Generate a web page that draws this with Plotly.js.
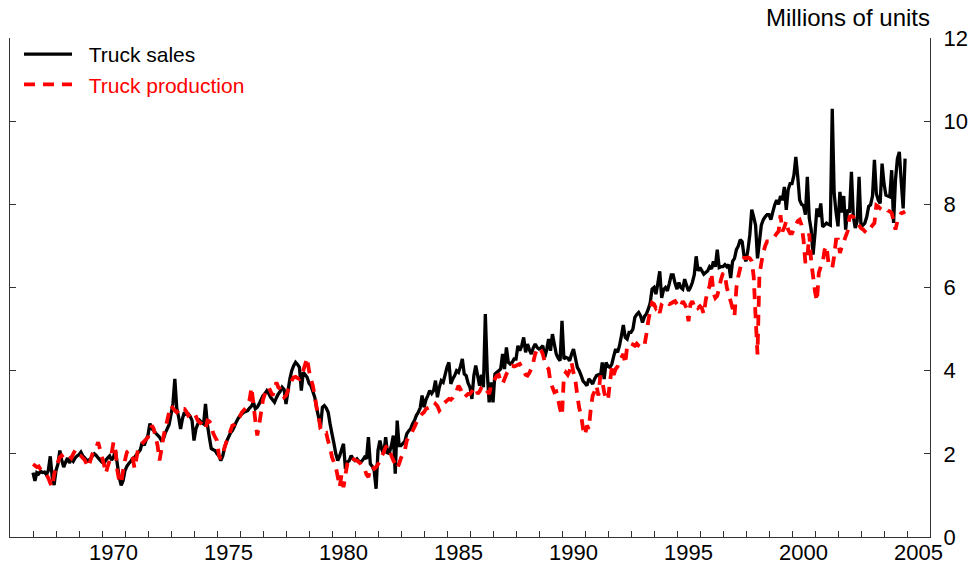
<!DOCTYPE html>
<html>
<head>
<meta charset="utf-8">
<script src="https://cdn.plot.ly/plotly-3.0.1.min.js"></script>
<style>
  html, body { margin: 0; padding: 0; background: #fff; }
  #chart { width: 977px; height: 571px; }
</style>
</head>
<body>
<div id="chart"></div>
<script>
// Monthly data, January 1967 through December 2004 (12 values per row)
const startYear = 1967;

const truckSales = [
  1.55, 1.35, 1.55, 1.52, 1.58, 1.55, 1.56, 1.50, 1.60, 1.94, 1.45, 1.25, // 1967
  1.60, 1.75, 2.08, 1.85, 1.68, 1.80, 1.90, 1.78, 1.88, 1.82, 1.90, 1.95, // 1968
  1.98, 2.04, 1.95, 1.90, 1.85, 1.84, 1.88, 1.95, 2.00, 1.96, 1.90, 1.85, // 1969
  1.80, 1.77, 1.85, 1.90, 1.95, 1.85, 1.92, 2.08, 1.75, 1.44, 1.24, 1.35, // 1970
  1.60, 1.70, 1.77, 1.82, 1.89, 1.92, 1.98, 2.04, 2.10, 2.28, 2.20, 2.33, // 1971
  2.45, 2.73, 2.60, 2.56, 2.50, 2.45, 2.40, 2.32, 2.35, 2.50, 2.60, 2.70, // 1972
  2.95, 3.20, 3.80, 3.10, 2.88, 2.60, 2.85, 3.00, 2.95, 2.96, 2.90, 2.80, // 1973
  2.32, 2.60, 2.72, 2.80, 2.75, 2.72, 3.20, 2.70, 2.40, 2.13, 2.10, 2.08, // 1974
  2.00, 1.95, 1.84, 1.95, 2.16, 2.30, 2.40, 2.50, 2.56, 2.65, 2.76, 2.85, // 1975
  2.92, 2.96, 3.00, 3.02, 3.04, 3.10, 3.15, 3.24, 3.08, 3.12, 3.20, 3.30, // 1976
  3.40, 3.45, 3.52, 3.45, 3.36, 3.30, 3.24, 3.35, 3.44, 3.50, 3.60, 3.55, // 1977
  3.20, 3.50, 3.80, 4.00, 4.12, 4.20, 4.15, 4.08, 3.52, 3.96, 3.90, 3.84, // 1978
  3.70, 3.64, 3.50, 3.36, 3.10, 2.88, 2.64, 3.12, 3.16, 3.10, 3.00, 2.72, // 1979
  2.48, 2.25, 2.00, 1.84, 1.95, 2.10, 2.24, 1.64, 1.80, 1.84, 1.96, 1.88, // 1980
  1.84, 1.88, 1.82, 1.80, 1.85, 1.92, 1.88, 2.40, 1.76, 1.70, 1.60, 1.16, // 1981
  2.08, 2.32, 2.10, 2.00, 2.40, 2.00, 2.04, 2.20, 2.44, 1.52, 2.80, 2.20, // 1982
  2.20, 2.25, 2.30, 2.48, 2.55, 2.60, 2.72, 2.80, 2.92, 3.00, 3.10, 3.40, // 1983
  3.12, 3.30, 3.40, 3.52, 3.45, 3.52, 3.76, 3.36, 3.60, 3.76, 3.72, 3.90, // 1984
  4.08, 4.20, 3.68, 3.80, 3.88, 4.00, 3.96, 4.10, 4.28, 3.92, 3.88, 3.70, // 1985
  3.60, 3.32, 3.88, 4.12, 3.88, 3.64, 3.90, 3.60, 5.36, 3.96, 3.24, 3.72, // 1986
  3.24, 3.92, 3.96, 4.00, 4.04, 4.40, 4.04, 4.56, 4.20, 4.16, 4.20, 4.28, // 1987
  4.28, 4.60, 4.48, 4.60, 4.80, 4.44, 4.64, 4.50, 4.40, 4.55, 4.64, 4.56, // 1988
  4.52, 4.55, 4.60, 4.32, 4.50, 4.76, 4.48, 4.88, 4.64, 4.40, 4.30, 4.24, // 1989
  5.20, 4.28, 4.32, 4.30, 4.24, 4.40, 4.52, 4.30, 4.08, 4.00, 3.88, 3.75, // 1990
  3.70, 3.64, 3.80, 3.75, 3.68, 3.80, 3.88, 3.90, 3.84, 4.20, 3.80, 4.20, // 1991
  4.10, 4.08, 4.16, 4.35, 4.52, 4.44, 4.60, 4.84, 5.10, 4.80, 4.76, 4.92, // 1992
  4.92, 5.00, 5.28, 5.35, 5.40, 5.32, 5.16, 5.30, 5.36, 5.48, 5.63, 5.96, // 1993
  6.00, 5.84, 6.10, 6.39, 5.75, 5.95, 6.00, 5.92, 6.10, 6.30, 6.30, 6.10, // 1994
  5.96, 6.12, 6.00, 5.96, 6.20, 6.05, 5.92, 6.00, 6.12, 6.30, 6.75, 6.40, // 1995
  6.48, 6.40, 6.32, 6.36, 6.40, 6.50, 6.45, 6.63, 6.50, 6.91, 6.48, 6.50, // 1996
  6.50, 6.55, 6.50, 6.55, 6.23, 6.63, 6.70, 6.91, 7.00, 7.15, 7.10, 6.75, // 1997
  6.63, 6.90, 7.27, 7.87, 7.70, 7.50, 6.70, 7.10, 7.50, 7.63, 7.70, 7.75, // 1998
  7.75, 7.63, 7.82, 7.99, 8.10, 8.00, 8.20, 8.10, 8.42, 7.87, 8.35, 8.50, // 1999
  8.50, 8.70, 9.14, 8.66, 8.10, 8.00, 7.97, 7.75, 8.66, 7.67, 7.39, 6.79, // 2000
  7.30, 7.90, 7.70, 8.02, 7.46, 7.50, 7.55, 7.52, 7.50, 10.30, 8.26, 7.80, // 2001
  7.47, 8.30, 7.80, 8.20, 7.39, 7.87, 7.80, 8.78, 7.70, 7.43, 7.60, 8.66, // 2002
  7.47, 7.50, 7.55, 7.70, 7.95, 7.99, 8.20, 9.07, 8.26, 8.10, 8.02, 8.98, // 2003
  8.50, 8.22, 8.20, 8.18, 8.82, 7.55, 8.60, 9.10, 9.26, 8.54, 7.90, 9.10  // 2004
];

const truckProduction = [
  1.75, 1.72, 1.68, 1.70, 1.62, 1.58, 1.55, 1.50, 1.42, 1.30, 1.20, 1.50, // 1967
  1.68, 1.80, 1.92, 1.96, 1.90, 1.88, 1.92, 1.95, 1.90, 2.00, 2.08, 1.96, // 1968
  1.96, 1.95, 1.90, 1.85, 1.75, 1.68, 1.85, 2.00, 2.10, 2.16, 2.28, 2.10, // 1969
  1.92, 1.75, 1.53, 1.70, 1.84, 2.00, 2.28, 2.10, 1.60, 1.35, 1.29, 1.60, // 1970
  1.85, 2.04, 2.08, 2.00, 1.90, 1.65, 1.90, 2.16, 2.20, 2.25, 2.30, 2.35, // 1971
  2.40, 2.55, 2.68, 2.60, 2.40, 2.20, 1.84, 2.10, 2.40, 2.60, 2.80, 3.00, // 1972
  3.16, 3.10, 3.04, 3.00, 3.05, 3.00, 3.08, 3.08, 3.02, 2.92, 2.95, 3.00, // 1973
  3.00, 2.90, 2.80, 2.75, 2.72, 2.65, 2.60, 2.80, 2.78, 2.72, 2.50, 2.40, // 1974
  2.32, 1.96, 1.88, 2.00, 2.16, 2.30, 2.40, 2.55, 2.68, 2.70, 2.76, 2.85, // 1975
  2.90, 3.00, 3.05, 3.10, 3.20, 3.30, 3.60, 3.20, 2.80, 2.44, 2.70, 3.00, // 1976
  3.30, 3.44, 3.55, 3.60, 3.50, 3.40, 3.55, 3.72, 3.60, 3.56, 3.45, 3.36, // 1977
  3.40, 3.52, 3.65, 3.76, 3.84, 3.85, 3.82, 3.80, 3.90, 4.00, 4.15, 4.31, // 1978
  4.00, 3.80, 3.64, 3.40, 3.10, 2.92, 2.60, 2.55, 2.48, 2.50, 2.30, 2.16, // 1979
  1.92, 1.80, 1.68, 1.45, 1.20, 1.50, 1.20, 1.50, 1.76, 1.85, 1.92, 1.88, // 1980
  1.85, 1.84, 1.80, 1.76, 1.70, 1.64, 1.50, 1.44, 1.65, 1.70, 1.64, 1.68, // 1981
  1.75, 1.84, 1.95, 2.04, 2.16, 2.20, 2.08, 1.95, 1.84, 1.76, 1.65, 1.76, // 1982
  1.90, 2.00, 2.08, 2.32, 2.40, 2.44, 2.55, 2.64, 2.75, 2.84, 2.90, 2.96, // 1983
  3.00, 3.08, 3.10, 3.12, 3.15, 3.12, 3.20, 3.15, 3.04, 3.10, 3.20, 3.24, // 1984
  3.28, 3.32, 3.30, 3.35, 3.45, 3.52, 3.64, 3.56, 3.45, 3.36, 3.40, 3.44, // 1985
  3.44, 3.50, 3.56, 3.60, 3.44, 3.50, 3.60, 3.64, 3.56, 3.50, 3.44, 3.64, // 1986
  3.70, 3.80, 3.88, 3.90, 3.75, 3.68, 3.80, 3.92, 4.00, 4.08, 4.12, 4.10, // 1987
  4.12, 4.14, 4.16, 4.08, 4.00, 3.90, 3.88, 3.95, 4.05, 4.20, 4.40, 4.52, // 1988
  4.56, 4.50, 4.40, 4.20, 4.10, 4.04, 3.72, 3.60, 3.48, 3.50, 3.30, 3.08, // 1989
  2.92, 3.88, 3.96, 3.90, 4.00, 4.20, 3.95, 3.76, 3.40, 3.10, 2.92, 2.60, // 1990
  2.45, 2.68, 2.60, 3.08, 3.40, 3.50, 3.64, 3.40, 3.88, 3.76, 3.48, 3.30, // 1991
  3.30, 3.72, 4.08, 3.90, 4.04, 4.10, 4.24, 4.32, 4.40, 4.16, 4.60, 4.65, // 1992
  4.65, 4.63, 4.60, 4.65, 4.60, 4.57, 4.55, 4.60, 4.87, 5.19, 5.43, 5.63, // 1993
  5.60, 5.50, 5.55, 5.39, 5.60, 5.67, 5.65, 5.63, 5.60, 5.62, 5.65, 5.67, // 1994
  5.60, 5.63, 5.55, 5.67, 5.60, 5.50, 5.19, 5.60, 5.67, 5.55, 5.60, 5.51, // 1995
  5.55, 5.50, 5.36, 5.70, 5.91, 6.03, 6.35, 5.87, 5.75, 5.80, 5.99, 6.20, // 1996
  6.35, 6.30, 6.00, 5.83, 5.67, 5.50, 5.31, 6.00, 6.27, 6.47, 6.63, 6.71, // 1997
  6.71, 6.72, 6.70, 6.63, 6.27, 5.30, 4.39, 6.30, 6.59, 6.83, 7.00, 7.11, // 1998
  7.11, 7.15, 7.20, 7.23, 7.30, 7.35, 7.74, 7.35, 7.45, 7.60, 7.39, 7.30, // 1999
  7.30, 7.40, 7.50, 7.60, 7.63, 7.50, 7.15, 6.59, 6.70, 7.30, 6.63, 6.27, // 2000
  5.90, 5.67, 6.35, 6.50, 6.60, 6.90, 7.00, 6.60, 6.50, 6.47, 6.75, 7.15, // 2001
  7.15, 6.83, 6.98, 7.10, 7.23, 7.35, 7.70, 7.72, 7.70, 7.58, 7.55, 7.50, // 2002
  7.43, 7.40, 7.35, 7.31, 7.40, 7.43, 7.50, 7.55, 7.98, 7.95, 7.90, 7.87, // 2003
  7.90, 7.91, 7.85, 7.83, 7.79, 7.60, 7.39, 7.60, 7.70, 7.79, 7.80, 7.83  // 2004
];

// Axis ticks (year boundaries) and labels (centred in the labelled year)
const yearTicks = [];
for (let y = 1967; y <= 2005; y++) yearTicks.push(y);
const labelYears = [1970, 1975, 1980, 1985, 1990, 1995, 2000, 2005];
const tickLabels = ['1970', '1975', '1980', '1985', '1990', '1995', '2000', '2005'];
const yTicks = [0, 2, 4, 6, 8, 10, 12];
const yTickLabels = ['0', '2', '4', '6', '8', '10', '12'];
const seriesNames = ['Truck sales', 'Truck production'];

const months = truckSales.map((_, i) => startYear + i / 12);
const labelPositions = labelYears.map(y => y + 0.5);
const pad = '\u00a0\u00a0';

const traces = [
  {
    x: months, y: truckSales, type: 'scatter', mode: 'lines',
    name: pad + seriesNames[0],
    line: {color: '#000000', width: 3.3, simplify: false},
    hoverinfo: 'skip'
  },
  {
    x: months, y: truckProduction, type: 'scatter', mode: 'lines',
    name: pad + '<span style="color:#ff0000">' + seriesNames[1] + '</span>',
    line: {color: '#ff0000', width: 3.8, dash: '11px,8px', simplify: false},
    hoverinfo: 'skip'
  },
  {
    x: [], y: [], xaxis: 'x2', yaxis: 'y', type: 'scatter', mode: 'lines',
    showlegend: false, hoverinfo: 'skip'
  }
];

const layout = {
  width: 977, height: 571,
  margin: {l: 10, r: 47, t: 38, b: 34, pad: 0},
  paper_bgcolor: '#ffffff', plot_bgcolor: '#ffffff',
  font: {family: '"Liberation Sans", Arial, Helvetica, sans-serif', size: 21, color: '#000000'},
  showlegend: true,
  legend: {
    x: 0.0098, y: 1.008, xanchor: 'left', yanchor: 'top',
    bgcolor: 'rgba(0,0,0,0)', borderwidth: 0,
    font: {size: 21, color: '#000000'},
    itemwidth: 48, traceorder: 'normal'
  },
  title: {
    text: 'Millions of units',
    x: 1, xref: 'paper', xanchor: 'right',
    y: 1 - 18 / 571, yref: 'container', yanchor: 'middle',
    font: {size: 24, color: '#000000'}
  },
  xaxis: {
    range: [1966, 2006], tickmode: 'array', tickvals: yearTicks, showticklabels: false,
    ticks: 'inside', ticklen: 6, tickwidth: 1, tickcolor: '#333333',
    showline: true, linecolor: '#333333', linewidth: 1,
    showgrid: false, zeroline: false, fixedrange: true
  },
  xaxis2: {
    overlaying: 'x', anchor: 'y', side: 'bottom',
    range: [1966, 2006], tickmode: 'array', tickvals: labelPositions, ticktext: tickLabels,
    ticks: '', showline: false, showgrid: false, zeroline: false,
    tickfont: {size: 22, color: '#000000'}, fixedrange: true
  },
  yaxis: {
    side: 'right', range: [0, 12], tickmode: 'array', tickvals: yTicks, ticktext: yTickLabels,
    ticks: 'inside', ticklen: 6, tickwidth: 1, tickcolor: '#333333',
    showline: true, linecolor: '#333333', linewidth: 1, mirror: 'ticks',
    showgrid: false, zeroline: false, fixedrange: true,
    ticklabelstandoff: 8,
    tickfont: {size: 22, color: '#000000'}
  }
};

Plotly.newPlot('chart', traces, layout, {staticPlot: true, displayModeBar: false});
</script>
</body>
</html>
